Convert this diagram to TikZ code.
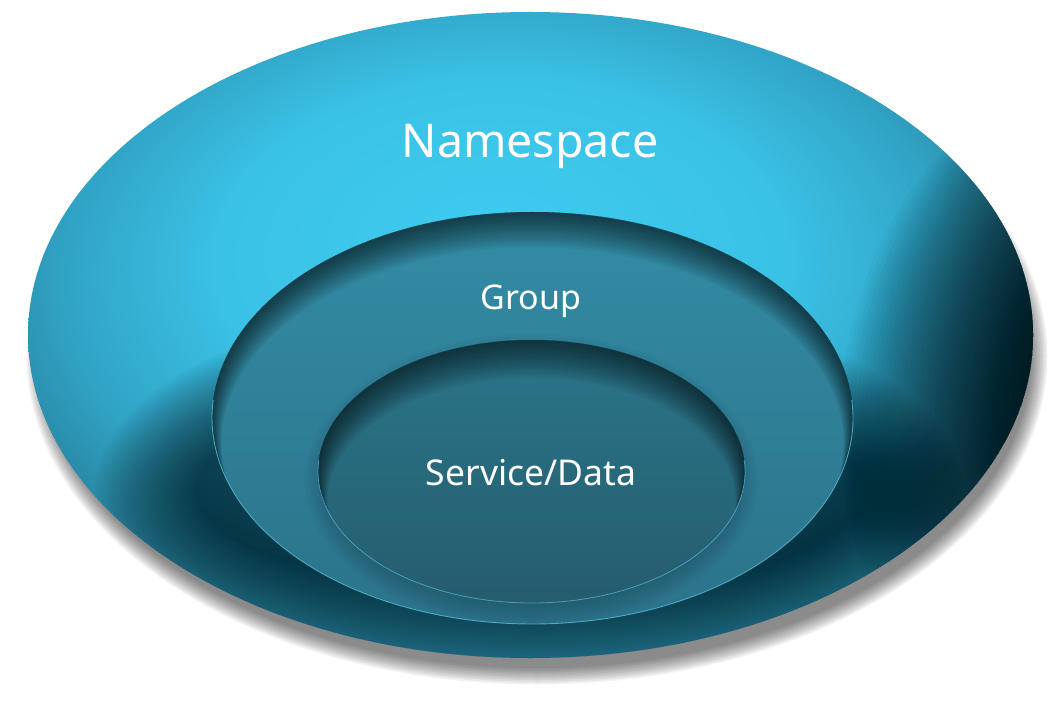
\documentclass[tikz,border=0pt]{standalone}
\usepackage{fontspec}
\setmainfont{Noto Sans}
\definecolor{nsA}{HTML}{3DCBEF}
\definecolor{nsB}{HTML}{3AC2E6}
\definecolor{nsC}{HTML}{31A4C6}
\definecolor{nsD}{HTML}{2A8CA9}
\definecolor{nsE}{HTML}{247E99}
\definecolor{nsF}{HTML}{1D6C84}
\definecolor{grTop}{HTML}{338CA5}
\definecolor{grBot}{HTML}{2B7389}
\definecolor{svTop}{HTML}{2B768A}
\definecolor{svBot}{HTML}{255C6E}
\definecolor{rimlight}{HTML}{52B6D2}
\pgfdeclareradialshading{nsshade}{\pgfpoint{-2bp}{8bp}}{%
  color(0bp)=(nsA); color(14bp)=(nsB); color(22bp)=(nsC); color(26bp)=(nsD);
  color(34bp)=(nsE); color(50bp)=(nsF)}
\tikzset{
  label text/.style={text=white, inner sep=0pt, anchor=base},
  inner shade/.style={fill=black, opacity=0.045, even odd rule},
  soft layer/.style={fill=black, opacity=#1},
}
\begin{document}
\begin{tikzpicture}[x=1pt,y=-1pt]
\fill[white] (0,0) rectangle (1054,708);
\useasboundingbox (0,0) rectangle (1054,708);
% drop shadow of the outer ellipse (soft, stacked)
\foreach \k in {0,...,11}
  \fill[soft layer=0.048] (537,356) ellipse [x radius={494+1.5*\k}, y radius={312+1.5*\k}];
% outer ellipse (Namespace)
\shade[shading=nsshade] (530.5,335) ellipse (502.5 and 323);
\begin{scope}
  \clip (530.5,335) ellipse (502.5 and 323);
  % dark rim on the right
  \foreach \k in {0,...,49}
    \fill[soft layer=0.026] (1120,430) ellipse [x radius={80+200*\k/49}, y radius={170+190*\k/49}];
  % dark band cast below the group
  \foreach \k in {0,...,39}
    \fill[soft layer=0.021] (530,490) ellipse [x radius={335+100*\k/39}, y radius={105+90*\k/39}];
\end{scope}
% group (middle) ellipse
\shade[top color=grTop, bottom color=grBot] (532.5,418) ellipse (320.5 and 206);
\begin{scope}
  \clip (532.5,418) ellipse (320.5 and 206);
  \foreach \k in {1,...,16}
    \fill[inner shade] (150,150) rectangle (950,700)
      (532.5,418+1.6*\k) ellipse [x radius={320.5-0.6*\k}, y radius={206-0.6*\k}];
  % faint shadow of the inner ellipse
  \foreach \k in {0,...,9}
    \fill[soft layer=0.02] (531.5,480) ellipse [x radius={203+24*\k/9}, y radius={122+24*\k/9}];
\end{scope}
\draw[rimlight, opacity=0.85, line width=0.9pt]
  ([shift={(532.5,418)}]-5:320.5 and 206) arc[start angle=-5, end angle=185, x radius=320.5, y radius=206];
% service (inner) ellipse
\shade[top color=svTop, bottom color=svBot] (531.5,471.5) ellipse (213.5 and 131.5);
\begin{scope}
  \clip (531.5,471.5) ellipse (213.5 and 131.5);
  \foreach \k in {1,...,16}
    \fill[inner shade] (250,300) rectangle (800,650)
      (531.5,471.5+1.8*\k) ellipse [x radius={213.5-0.6*\k}, y radius={131.5-0.6*\k}];
\end{scope}
\draw[rimlight, opacity=0.75, line width=0.8pt]
  ([shift={(531.5,471.5)}]-5:213.5 and 131.5) arc[start angle=-5, end angle=185, x radius=213.5, y radius=131.5];
% labels
\node[label text, font=\fontsize{46.5}{50}\selectfont] (ns) at (530,158) {Namespace};
\node[label text, font=\fontsize{34}{38}\selectfont] (grp) at (531,310) {Group};
\node[label text, font=\fontsize{35.5}{40}\selectfont] (svc) at (531,485) {Service/Data};
\end{tikzpicture}
\end{document}
